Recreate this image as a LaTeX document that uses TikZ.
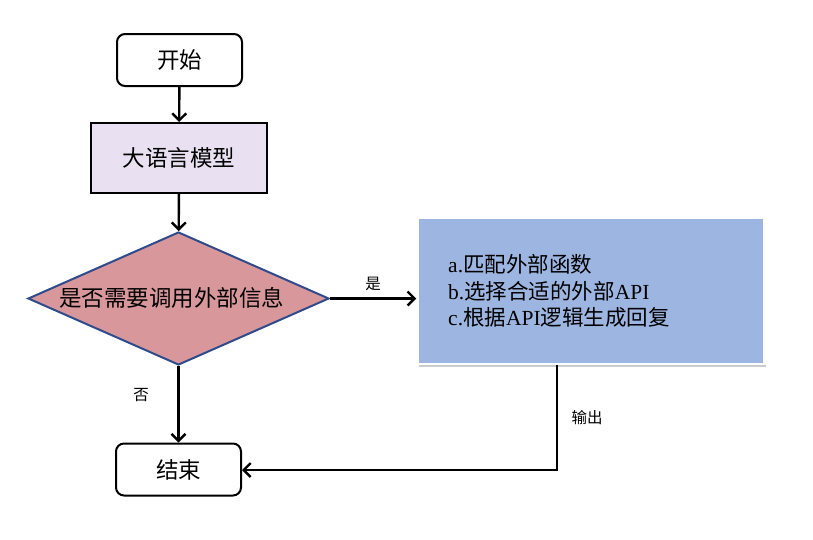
\documentclass[tikz,border=0pt]{standalone}
\usepackage{fontspec}
\setmainfont{Liberation Serif}
\newfontfamily\cjk{Noto Sans CJK SC}
\usetikzlibrary{shapes.geometric,arrows.meta,shadows}
\definecolor{lav}{HTML}{E9E1F1}
\definecolor{rosefill}{HTML}{D8979B}
\definecolor{navyline}{HTML}{2F4B8C}
\definecolor{bluefill}{HTML}{9DB6E1}
\tikzset{
  term/.style={draw=black, line width=2pt, rounded corners=8pt, fill=white, minimum width=125pt, minimum height=52pt, font=\cjk\fontsize{22.5}{24}\selectfont},
  procbox/.style={draw=black, line width=2pt, fill=lav, minimum width=176pt, minimum height=70pt, font=\cjk\fontsize{22.5}{24}\selectfont},
  decide/.style={diamond, draw=navyline, line width=2pt, fill=rosefill, minimum width=301pt, minimum height=133pt, aspect=2.26, inner sep=0pt},
  infobox/.style={draw=white, line width=2.5pt, fill=bluefill, minimum width=347pt, minimum height=146pt, drop shadow={shadow xshift=1.5pt, shadow yshift=-2.5pt, fill=black!40, opacity=0.5}},
  flow/.style={line width=2.4pt, -{Straight Barb[length=7pt,width=14pt,line width=2.4pt]}},
  lab/.style={font=\cjk\fontsize{15.5}{17}\selectfont}
}
\begin{document}
\begin{tikzpicture}[x=1pt,y=-1pt]
\useasboundingbox[fill=white] (0,0) rectangle (813,539);
\node[term] (start) at (179.5,60) {开始};
\node[procbox] (llm) at (179,158) {大语言模型};
\node[decide] (dec) at (178.5,298.5) {};
\node[font=\cjk\fontsize{22.5}{24}\selectfont] (dectext) at (171.5,298) {是否需要调用外部信息};
\node[infobox] (info) at (591,291) {};
\node[anchor=west, align=left, font=\cjk\fontsize{21.5}{26.5}\selectfont, inner sep=0pt] (infotext) at (448,291) {{\rmfamily a.}匹配外部函数\\{\rmfamily b.}选择合适的外部{\rmfamily API}\\{\rmfamily c.}根据{\rmfamily API}逻辑生成回复};
\node[term] (end) at (178.5,469.5) {结束};
\coordinate (corner) at (557,470);
\draw[flow] (start) -- (llm);
\draw[flow] (llm) -- (dec);
\draw[flow] (dec.east) -- (info.west |- dec.east) node[lab, midway, above=3pt] (yes) {是};
\draw[flow] (dec.south) -- (end.north);
\node[lab] (no) at (141,395) {否};
\draw[flow] (info.south -| corner) -- (corner) -- (end.east |- corner);
\node[lab] (out) at (587,418) {输出};
\end{tikzpicture}
\end{document}
